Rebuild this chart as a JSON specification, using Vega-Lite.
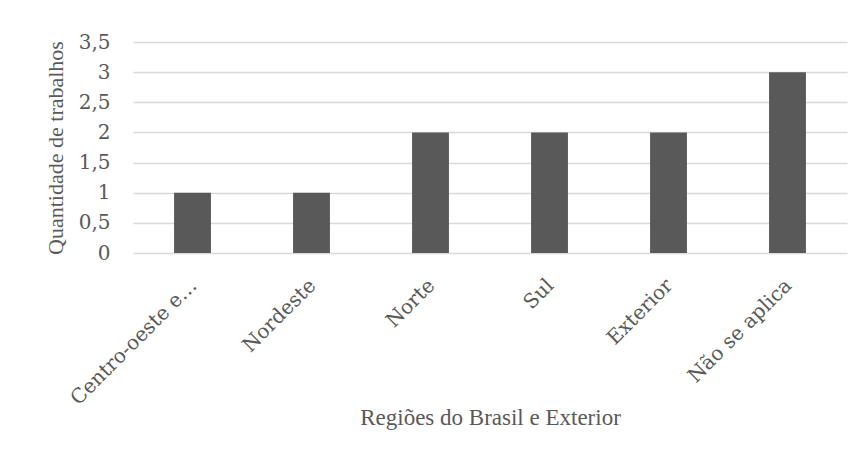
{
  "$schema": "https://vega.github.io/schema/vega-lite/v6.json",
  "width": 714,
  "height": 211,
  "autosize": {"type": "none"},
  "padding": {"left": 133, "top": 42, "right": 14, "bottom": 206},
  "background": "white",
  "data": {
    "values": [
      {"regiao": "Centro-oeste e…", "quantidade": 1},
      {"regiao": "Nordeste", "quantidade": 1},
      {"regiao": "Norte", "quantidade": 2},
      {"regiao": "Sul", "quantidade": 2},
      {"regiao": "Exterior", "quantidade": 2},
      {"regiao": "Não se aplica", "quantidade": 3}
    ]
  },
  "mark": {"type": "bar", "color": "#595959"},
  "encoding": {
    "x": {
      "field": "regiao",
      "type": "nominal",
      "sort": null,
      "scale": {"paddingInner": 0.69, "paddingOuter": 0.345},
      "axis": {
        "title": "Regiões do Brasil e Exterior",
        "labelAngle": -45,
        "labelPadding": 22,
        "labelOffset": -6,
        "ticks": false,
        "domain": false,
        "labelFont": "DejaVu Serif",
        "labelFontSize": 20,
        "labelColor": "#595959",
        "labelLimit": 300,
        "titleFont": "Liberation Serif",
        "titleFontSize": 23,
        "titleFontWeight": "normal",
        "titleColor": "#595959",
        "titlePadding": -2
      }
    },
    "y": {
      "field": "quantidade",
      "type": "quantitative",
      "scale": {"domain": [0, 3.5], "nice": false},
      "axis": {
        "title": "Quantidade de trabalhos",
        "values": [0, 0.5, 1, 1.5, 2, 2.5, 3, 3.5],
        "labelExpr": "replace(toString(datum.value), '.', ',')",
        "ticks": false,
        "domain": false,
        "grid": true,
        "gridColor": "#d9d9d9",
        "gridWidth": 1.3,
        "labelPadding": 23,
        "labelFont": "DejaVu Serif",
        "labelFontSize": 20,
        "labelColor": "#595959",
        "titleFont": "Liberation Serif",
        "titleFontSize": 22,
        "titleFontWeight": "normal",
        "titleColor": "#595959",
        "titlePadding": 11
      }
    }
  },
  "config": {"view": {"stroke": null}}
}
